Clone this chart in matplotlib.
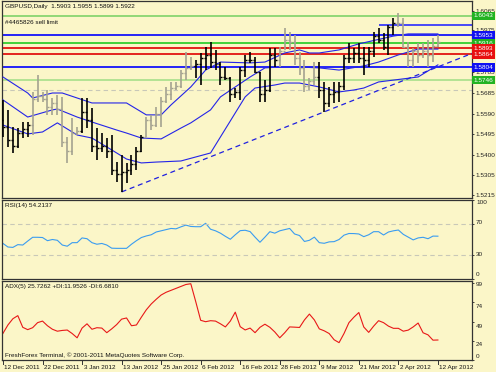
import matplotlib
matplotlib.use("Agg")
import matplotlib.pyplot as plt
import matplotlib.transforms as mtransforms

# OHLC (daily GBPUSD, 12 Dec 2011 - 12 Apr 2012)
highs = [1.5654, 1.5608, 1.5529, 1.5524, 1.5552, 1.5552, 1.5691, 1.5769, 1.5691, 1.5700,
         1.5663, 1.5677, 1.5668, 1.5483, 1.5571, 1.5529, 1.5663, 1.5663, 1.5617, 1.5524,
         1.5501, 1.5478, 1.5492, 1.5367, 1.5400, 1.5363, 1.5400, 1.5437, 1.5492, 1.5575,
         1.5585, 1.5621, 1.5668, 1.5714, 1.5737, 1.5737, 1.5792, 1.5876, 1.5852, 1.5839,
         1.5871, 1.5899, 1.5922, 1.5885, 1.5829, 1.5806, 1.5760, 1.5709, 1.5806, 1.5862,
         1.5876, 1.5852, 1.5785, 1.5746, 1.5894, 1.5894, 1.5899, 1.5986, 1.5968, 1.5954,
         1.5876, 1.5839, 1.5755, 1.5829, 1.5829, 1.5737, 1.5714, 1.5737, 1.5737, 1.5862,
         1.5917, 1.5894, 1.5917, 1.5899, 1.5899, 1.5968, 1.5986, 1.5963, 1.6000, 1.6033,
         1.6056, 1.6033, 1.5922, 1.5894, 1.5917, 1.5917, 1.5931, 1.5940, 1.5955]
lows = [1.5483, 1.5437, 1.5409, 1.5432, 1.5478, 1.5483, 1.5492, 1.5645, 1.5645, 1.5585,
        1.5585, 1.5585, 1.5437, 1.5363, 1.5400, 1.5492, 1.5501, 1.5524, 1.5414, 1.5377,
        1.5414, 1.5386, 1.5307, 1.5275, 1.5229, 1.5270, 1.5307, 1.5330, 1.5414, 1.5485,
        1.5515, 1.5529, 1.5529, 1.5640, 1.5654, 1.5700, 1.5709, 1.5746, 1.5792, 1.5755,
        1.5723, 1.5792, 1.5802, 1.5792, 1.5723, 1.5746, 1.5645, 1.5663, 1.5654, 1.5760,
        1.5825, 1.5779, 1.5645, 1.5645, 1.5691, 1.5806, 1.5806, 1.5885, 1.5885, 1.5816,
        1.5769, 1.5691, 1.5700, 1.5723, 1.5663, 1.5598, 1.5621, 1.5640, 1.5645, 1.5700,
        1.5825, 1.5825, 1.5825, 1.5769, 1.5806, 1.5852, 1.5917, 1.5885, 1.5862, 1.5954,
        1.5991, 1.5894, 1.5806, 1.5806, 1.5825, 1.5848, 1.5806, 1.5829, 1.5899]
closes = [1.5530, 1.5470, 1.5440, 1.5500, 1.5520, 1.5540, 1.5660, 1.5670, 1.5660, 1.5620,
          1.5640, 1.5610, 1.5460, 1.5420, 1.5500, 1.5510, 1.5600, 1.5560, 1.5440, 1.5430,
          1.5440, 1.5420, 1.5330, 1.5310, 1.5320, 1.5330, 1.5360, 1.5420, 1.5485, 1.5560,
          1.5540, 1.5590, 1.5650, 1.5680, 1.5710, 1.5720, 1.5780, 1.5800, 1.5810, 1.5820,
          1.5850, 1.5860, 1.5830, 1.5820, 1.5760, 1.5755, 1.5680, 1.5690, 1.5790, 1.5840,
          1.5840, 1.5785, 1.5680, 1.5700, 1.5860, 1.5840, 1.5880, 1.5930, 1.5920, 1.5850,
          1.5800, 1.5720, 1.5740, 1.5760, 1.5700, 1.5640, 1.5680, 1.5690, 1.5720, 1.5850,
          1.5850, 1.5870, 1.5850, 1.5840, 1.5880, 1.5950, 1.5930, 1.5900, 1.5990, 1.6010,
          1.6010, 1.5900, 1.5840, 1.5880, 1.5860, 1.5880, 1.5860, 1.5903, 1.5922]
first_open = 1.5560
gray_bars = list(range(6, 16)) + list(range(29, 39)) + list(range(56, 64)) + list(range(80, 89))

# three moving-average envelope lines: (bar, price) vertices
env_upper = [(0, 1.5760), (5, 1.5686), (6, 1.5663), (10, 1.5686), (12, 1.5686), (15, 1.5663),
             (18, 1.5640), (25, 1.5640), (29, 1.5585), (32, 1.5585), (34, 1.5631), (38, 1.5714),
             (41, 1.5792), (44, 1.5829), (50, 1.5825), (53, 1.5829), (57, 1.5871), (60, 1.5885),
             (62, 1.5871), (64, 1.5871), (68, 1.5885), (72, 1.5913), (79, 1.5949), (82, 1.5959),
             (88, 1.5959)]
env_mid = [(0, 1.5654), (5, 1.5575), (10, 1.5608), (11, 1.5612), (15, 1.5575), (18, 1.5552),
           (23, 1.5515), (25, 1.5501), (28, 1.5478), (32, 1.5474), (36, 1.5524), (38, 1.5548),
           (42, 1.5608), (44, 1.5668), (47, 1.5714), (50, 1.5760), (53, 1.5802), (56, 1.5806),
           (60, 1.5806), (64, 1.5802), (68, 1.5792), (73, 1.5811), (76, 1.5829), (80, 1.5862),
           (84, 1.5889), (88, 1.5889)]
env_lower = [(0, 1.5538), (5, 1.5497), (8, 1.5506), (11, 1.5548), (15, 1.5492), (18, 1.5478),
             (22, 1.5423), (25, 1.5381), (28, 1.5363), (31, 1.5367), (36, 1.5372), (42, 1.5409),
             (44, 1.5483), (47, 1.5594), (49, 1.5668), (51, 1.5709), (55, 1.5723), (57, 1.5732),
             (60, 1.5732), (64, 1.5714), (68, 1.5691), (71, 1.5700), (73, 1.5709), (76, 1.5737),
             (84, 1.5760), (88, 1.5816)]
trend_pts = [(24, 1.5229), (64, 1.5590)]

# horizontal levels: price, line colour, label box colour
levels = [(1.6043, '#7fd36a', '#22b322'), (1.5953, '#0000ff', '#1010f0'),
          (1.5916, '#22cc22', '#22b322'), (1.5893, '#e00000', '#e81010'),
          (1.5864, '#e00000', '#e81010'), (1.5804, '#0000ff', '#1010f0'),
          (1.5746, '#a8e08a', '#22b322')]

rsi = [45, 40.5, 40, 43.5, 43, 48, 52.8, 52.8, 52.5, 48.5, 50, 49, 43, 41.5, 46, 46, 52, 51, 46, 44,
       45, 43, 39, 38.8, 38.8, 38.8, 44, 48.5, 52.5, 54.5, 56, 59.5, 61, 62.5, 64, 63.5, 66, 68.2, 66.5, 66.2,
       66.2, 70.5, 63, 61, 58, 54, 50.3, 56, 61.2, 61.7, 60, 53, 46.5, 53, 59.9, 58, 61, 62.5, 64, 57,
       55, 47.5, 49, 53, 46, 45.2, 47, 47.3, 50, 55.5, 57.6, 57.5, 57, 53.6, 56, 59.9, 59.9, 55.7, 59.5, 61,
       62, 56.5, 53, 49.5, 52, 52.8, 51, 54.3, 54.2]
adx = [34.3, 45, 53, 57, 42, 39, 41.5, 48, 50, 44, 39.5, 37, 38, 38.5, 34, 28.5, 41, 46.5, 39.5, 41.5,
       41, 35.1, 40, 45.5, 52.5, 54, 44, 45, 55, 64.5, 72, 78, 83.5, 87, 89.5, 92, 94.5, 97, 98, 75,
       51, 49.2, 50.5, 50, 46.5, 42.5, 50, 61.5, 42.8, 38.6, 41, 35.1, 42, 46, 42, 36, 28.5, 35, 42.5, 42.2,
       41.8, 51.5, 59, 51.5, 40, 37.5, 34, 26, 22.3, 34, 48, 55, 61, 42.4, 35.5, 43.5, 50.5, 48, 43.5, 40.7,
       40.7, 37, 38.4, 42.5, 47.5, 35, 32.3, 25.5, 25.7]

date_labels = ['12 Dec 2011', '22 Dec 2011', '3 Jan 2012', '13 Jan 2012', '25 Jan 2012', '6 Feb 2012',
               '16 Feb 2012', '28 Feb 2012', '9 Mar 2012', '21 Mar 2012', '2 Apr 2012', '12 Apr 2012']
price_ticks = [1.6065, 1.5975, 1.5880, 1.5785, 1.5685, 1.5590, 1.5495, 1.5400, 1.5305, 1.5215]
rsi_ticks = [100, 70, 30, 0]
adx_ticks = [99, 74, 49, 24, 0]

bg = '#fbf6c8'
fs = 4.6
plt.rcParams['font.family'] = ['Liberation Sans', 'DejaVu Sans']
W, H = 496, 372
fig = plt.figure(figsize=(W / 100, H / 100), dpi=100, facecolor=bg)


def pane(top, bottom):
    a = fig.add_axes([2 / W, 1 - bottom / H, 470 / W, (bottom - top) / H], facecolor=bg)
    a.set_xlim(-0.2, 94.9)
    a.yaxis.tick_right()
    a.tick_params(axis='y', length=1.5, width=0.6, labelsize=fs, pad=1, colors='#222222')
    a.tick_params(axis='x', length=0, labelbottom=False)
    for s in a.spines.values():
        s.set_linewidth(0.9)
        s.set_color('#333333')
    return a


def corner_text(a, y, s):
    t = mtransforms.blended_transform_factory(a.transAxes, a.transData)
    a.text(0.0065, y, s, transform=t, fontsize=fs, color='#111111', va='center', ha='left')


ax = pane(1, 198)
ax_rsi = pane(200, 279)
ax_adx = pane(281, 360)

n = len(closes)
idx = list(range(n))
opens = [first_open] + closes[:-1]

# horizontal order / level lines
for p, lc, bc in levels:
    ax.axhline(p, color=lc, lw=1.2, zorder=2)
ax.axhline(1.5700, color='#c8c8b8', lw=0.8, ls=(0, (4, 3)), zorder=1)
ax.hlines(1.6000, 76, 94.9, color='#2a2aff', lw=1.2, zorder=2)

# envelope lines
for line in (env_upper, env_mid, env_lower):
    ax.plot([q[0] for q in line], [q[1] for q in line], color='#2424e8', lw=0.8, zorder=3)

# trend line (ray to the right)
x0, y0 = trend_pts[0]
x1, y1 = trend_pts[1]
slope = (y1 - y0) / (x1 - x0)
ax.plot([x0, 94.9], [y0, y0 + slope * (94.9 - x0)], color='#2020e0', lw=0.9,
        ls=(0, (4, 3)), zorder=3)

# OHLC bars
cols = ['#a4a290' if i in gray_bars else '#000000' for i in idx]
ax.vlines(idx, lows, highs, colors=cols, lw=1.2, zorder=4)
ax.hlines(opens, [i - 0.4 for i in idx], idx, colors=cols, lw=1.0, zorder=4)
ax.hlines(closes, idx, [i + 0.4 for i in idx], colors=cols, lw=1.0, zorder=4)

ax.set_ylim(1.5201, 1.6111)
ax.set_yticks(price_ticks)
ax.set_yticklabels(['%.4f' % t for t in price_ticks])

tr = mtransforms.blended_transform_factory(ax.transAxes, ax.transData)
for p, lc, bc in levels:
    ax.text(1.003, p, '%.4f' % p, transform=tr, color='white', fontsize=fs, va='center', ha='left',
            bbox=dict(boxstyle='square,pad=0.25', fc=bc, ec='none'), clip_on=False, zorder=10)

corner_text(ax, 1.6087, 'GBPUSD,Daily  1.5903 1.5955 1.5899 1.5922')
corner_text(ax, 1.6012, '#4465826 sell limit')

# RSI
ax_rsi.plot(idx, rsi, color='#3a9cf0', lw=0.8)
ax_rsi.set_ylim(0, 100)
ax_rsi.set_yticks(rsi_ticks)
ax_rsi.tick_params(axis='y', labelright=False)
for lv in (70, 30):
    ax_rsi.axhline(lv, color='#c8c8b8', lw=0.8, ls=(0, (4, 3)))
for t, yp in zip(rsi_ticks, [203, 223, 255, 275]):
    fig.text(476 / W, 1 - yp / H, str(t), fontsize=fs, color='#222222', va='center', ha='left')
corner_text(ax_rsi, 93, 'RSI(14) 54.2137')

# ADX
ax_adx.plot(idx, adx, color='#e81818', lw=0.8)
ax_adx.set_ylim(0, 101.5)
ax_adx.set_yticks(adx_ticks)
ax_adx.tick_params(axis='y', labelright=False)
for t, yp in zip(adx_ticks, [284, 306, 326, 345, 356]):
    fig.text(476 / W, 1 - yp / H, str(t), fontsize=fs, color='#222222', va='center', ha='left')
corner_text(ax_adx, 95, 'ADX(5) 25.7262 +DI:11.9526 -DI:6.6810')
corner_text(ax_adx, 6.5, 'FreshForex Terminal, \u00a9 2001-2011 MetaQuotes Software Corp.')

# date axis
trx = mtransforms.blended_transform_factory(ax_adx.transData, ax_adx.transAxes)
for k, lab in enumerate(date_labels):
    b = k * 8
    ax_adx.plot([b, b], [0, -0.05], color='#333333', lw=0.7, transform=trx, clip_on=False)
    ax_adx.text(b + 0.3, -0.09, lab, transform=trx, fontsize=fs, color='#111111',
                va='center', ha='left', clip_on=False)

fig.savefig('out.png', dpi=100, facecolor=bg)
